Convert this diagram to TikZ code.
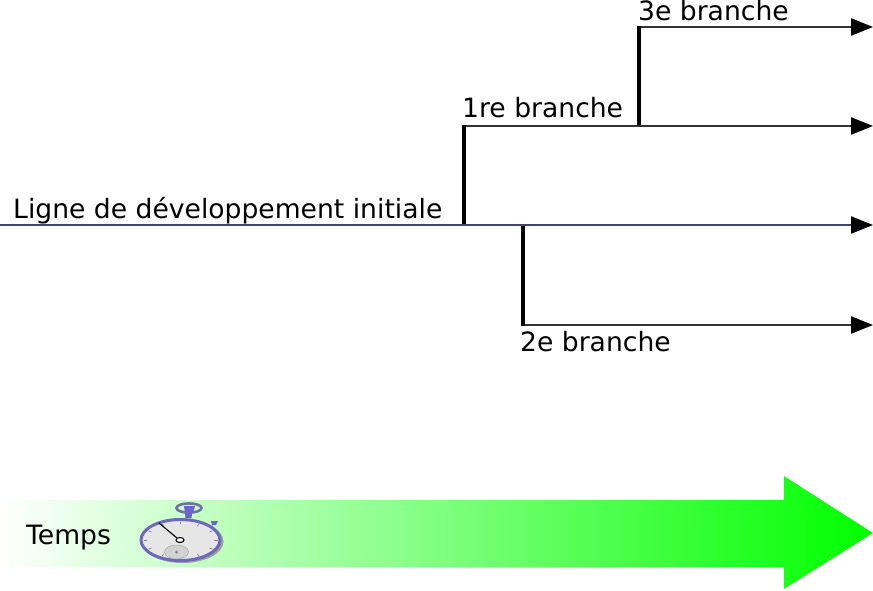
\documentclass[tikz,border=0pt]{standalone}
\usepackage{fontspec}
\setmainfont{DejaVu Sans}
\usetikzlibrary{arrows.meta, calc}
\definecolor{lineblue}{HTML}{45456A}
\definecolor{watchblue}{HTML}{6A64C8}
\definecolor{watchface}{HTML}{E6E6E6}
\tikzset{
  label/.style={inner sep=0pt, anchor=base west, font=\fontsize{26.6}{32}\selectfont},
  trunk/.style={->, line width=2.2pt, color=lineblue},
  branch/.style={->, line width=2.4pt, color=black!80},
  fork/.style={-, line width=3.2pt, color=black}
}
\begin{document}
\begin{tikzpicture}[>={Triangle[length=22pt,width=17pt,color=black]}, x=1pt, y=-1pt]
\useasboundingbox (0, 0) rectangle (873, 590);
% branch points
\coordinate (start) at (0, 225);
\coordinate (end) at (873, 225);
\coordinate (A) at (464, 225);
\coordinate (A1) at (464, 126);
\coordinate (A1end) at (873, 126);
\coordinate (C) at (639, 126);
\coordinate (C1) at (639, 27);
\coordinate (C1end) at (873, 27);
\coordinate (B) at (523, 225);
\coordinate (B1) at (523, 325);
\coordinate (B1end) at (873, 325);
\draw[trunk] (start) -- (end);
\draw[branch] (A1) -- (A1end);
\draw[branch] (C1) -- (C1end);
\draw[branch] (B1) -- (B1end);
\draw[fork] ($(A)+(0,-1)$) -- ($(A1)+(0,-1)$);
\draw[fork] ($(C)+(0,-1)$) -- ($(C1)+(0,-1)$);
\draw[fork] ($(B)+(0,1)$) -- ($(B1)+(0,1)$);
\node[label] at (13, 218) (trunklabel) {Ligne de développement initiale};
\node[label] at (462, 117) (firstlabel) {1re branche};
\node[label] at (638, 20) (thirdlabel) {3e branche};
\node[label] at (520, 351) (secondlabel) {2e branche};
% time arrow
\shade[left color=white, right color=green]
  (0, 500) -- (784, 500) -- (784, 476) -- (873, 533) -- (784, 589)
  -- (784, 567) -- (0, 567) -- cycle;
\node[label] at (26, 544) (timelabel) {Temps};
% stopwatch
\draw[watchblue!55!gray, line width=2.6pt] (189, 508) ellipse [x radius=12.5, y radius=4.6];
\fill[watchblue] (184, 506) -- (195, 506) -- (194, 510) -- (192, 513) -- (191.5, 518) -- (185.5, 518) -- (185, 513) -- cycle;
\fill[watchblue] (211, 521) -- (218, 521) -- (216, 525) -- (212, 525) -- cycle;
\fill[gray!75] (182.5, 541.5) ellipse [x radius=41, y radius=21.5];
\draw[watchblue!85!gray, fill=watchface, line width=3pt] (180.5, 540) ellipse [x radius=39.5, y radius=20.5];
\foreach \ang in {0, 30, ..., 330}
  \draw[gray, line width=.7pt] ($(180.5, 540)+(\ang:37 and 18.5)$) -- ($(180.5, 540)+(\ang:33.5 and 16)$);
\draw[gray!70, fill=gray!35, line width=.5pt] (176.5, 552) ellipse [x radius=12, y radius=7];
\fill[gray] (176.5, 552) ellipse [x radius=1.5, y radius=1.5];
\draw[black, line width=1.1pt] (159, 523) -- (177, 538);
\draw[black, fill=white, line width=1.1pt] (180, 540) ellipse [x radius=4, y radius=2.5];
\end{tikzpicture}
\end{document}
